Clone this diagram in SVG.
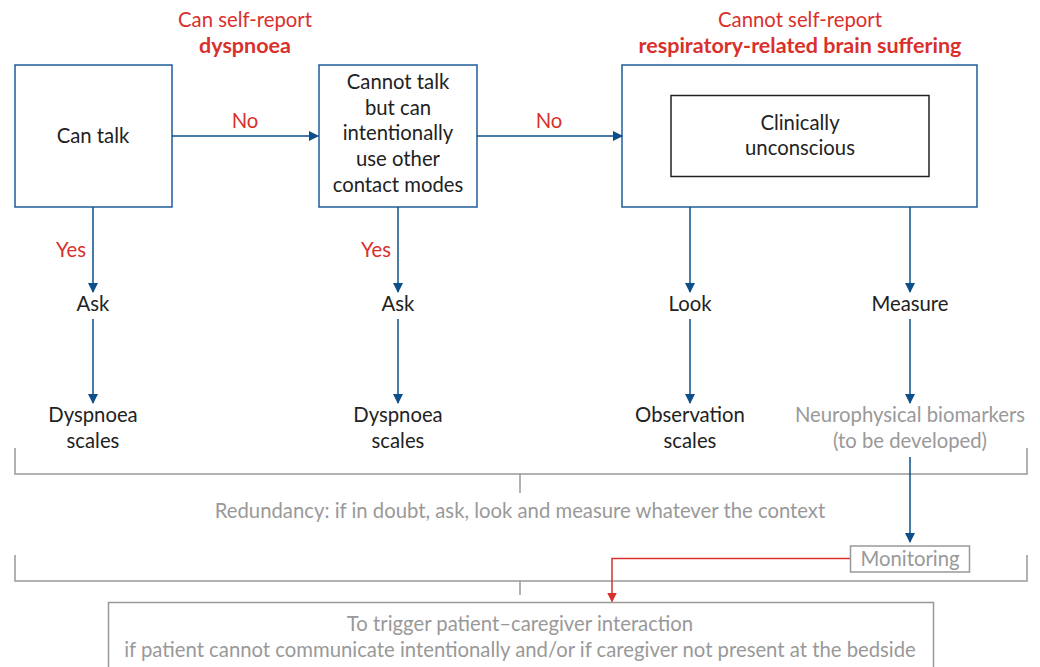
<svg xmlns="http://www.w3.org/2000/svg" width="1040" height="667" viewBox="0 0 1040 667">
<defs>
<marker id="ab" markerWidth="10" markerHeight="10" refX="9" refY="5" orient="auto" markerUnits="userSpaceOnUse" viewBox="0 0 10 10"><path d="M0,0 L10,5 L0,10 z" fill="#0d4f8b"/></marker>
<marker id="ar" markerWidth="10" markerHeight="10" refX="9" refY="5" orient="auto" markerUnits="userSpaceOnUse" viewBox="0 0 10 10"><path d="M0,0 L10,5 L0,10 z" fill="#d9302c"/></marker>
<style>
text{font-family:"Source Sans Pro","Lato","Liberation Sans",sans-serif;font-size:20.3px;text-anchor:middle;fill:#222}
.red{fill:#d9302c}
.b{font-weight:bold;font-size:21.5px}
.gray{fill:#999}
.box{fill:#fff;stroke:#1f5c99;stroke-width:1.5}
.inner{fill:#fff;stroke:#222;stroke-width:1.5}
.gbox{fill:#fff;stroke:#999;stroke-width:1.5}
.c{fill:none;stroke:#0d4f8b;stroke-width:1.5}
.cr{fill:none;stroke:#d9302c;stroke-width:1.5}
.br{fill:none;stroke:#999;stroke-width:1.5}
</style>
</defs>
<g id="title1"><text class="red" x="245" y="27">Can self-report</text><text class="red b" x="245" y="53">dyspnoea</text></g>
<g id="title2"><text class="red" x="800" y="27">Cannot self-report</text><text class="red b" x="800" y="53">respiratory-related brain suffering</text></g>
<g id="n-cantalk"><rect class="box" x="15" y="65" width="157" height="142"/><text x="93" y="143">Can talk</text></g>
<g id="n-cannottalk"><rect class="box" x="319" y="65" width="158" height="142"/>
<text x="398" y="89">Cannot talk</text><text x="398" y="115">but can</text><text x="398" y="140">intentionally</text><text x="398" y="166">use other</text><text x="398" y="192">contact modes</text></g>
<g id="n-cannotreport"><rect class="box" x="622" y="65" width="355" height="142"/></g>
<g id="n-unconscious"><rect class="inner" x="671" y="95.5" width="258" height="81"/><text x="800" y="130">Clinically</text><text x="800" y="155">unconscious</text></g>
<g id="n-ask1"><text x="93" y="311">Ask</text></g>
<g id="n-ask2"><text x="398" y="311">Ask</text></g>
<g id="n-look"><text x="690" y="311">Look</text></g>
<g id="n-measure"><text x="910" y="311">Measure</text></g>
<g id="n-dys1"><text x="93" y="422">Dyspnoea</text><text x="93" y="448">scales</text></g>
<g id="n-dys2"><text x="398" y="422">Dyspnoea</text><text x="398" y="448">scales</text></g>
<g id="n-obs"><text x="690" y="422">Observation</text><text x="690" y="448">scales</text></g>
<g id="n-neuro"><text class="gray" x="910" y="422">Neurophysical biomarkers</text><text class="gray" x="910" y="448">(to be developed)</text></g>
<g id="n-redundancy"><path class="br" d="M15,448 V474 H1027 V448 M520,474 V493"/><text class="gray" x="520" y="518">Redundancy: if in doubt, ask, look and measure whatever the context</text></g>
<g id="n-bracket2"><path class="br" d="M15,555 V581 H1027 V555 M520,581 V595"/></g>
<g id="connectors">
<path class="c" d="M172,136 H318" marker-end="url(#ab)"/>
<path class="c" d="M477,136 H622" marker-end="url(#ab)"/>
<path class="c" d="M93,207 V292" marker-end="url(#ab)"/>
<path class="c" d="M93,319 V403" marker-end="url(#ab)"/>
<path class="c" d="M398,207 V292" marker-end="url(#ab)"/>
<path class="c" d="M398,319 V403" marker-end="url(#ab)"/>
<path class="c" d="M690,207 V292" marker-end="url(#ab)"/>
<path class="c" d="M690,319 V403" marker-end="url(#ab)"/>
<path class="c" d="M910,207 V292" marker-end="url(#ab)"/>
<path class="c" d="M910,319 V403" marker-end="url(#ab)"/>
<path class="c" d="M910,457 V542" marker-end="url(#ab)"/>
<path class="cr" d="M850,558.5 H612 V601.5" marker-end="url(#ar)"/>
<text class="red" x="245" y="128">No</text>
<text class="red" x="549" y="128">No</text>
<text class="red" x="71" y="257">Yes</text>
<text class="red" x="376" y="257">Yes</text>
</g>
<g id="n-monitoring"><rect class="gbox" x="850.5" y="546" width="119" height="26"/><text class="gray" x="910" y="566">Monitoring</text></g>
<g id="n-trigger"><rect class="gbox" x="108.5" y="602.5" width="825" height="80"/>
<text class="gray" x="520" y="631">To trigger patient–caregiver interaction</text>
<text class="gray" x="520" y="657">if patient cannot communicate intentionally and/or if caregiver not present at the bedside</text></g>
</svg>
